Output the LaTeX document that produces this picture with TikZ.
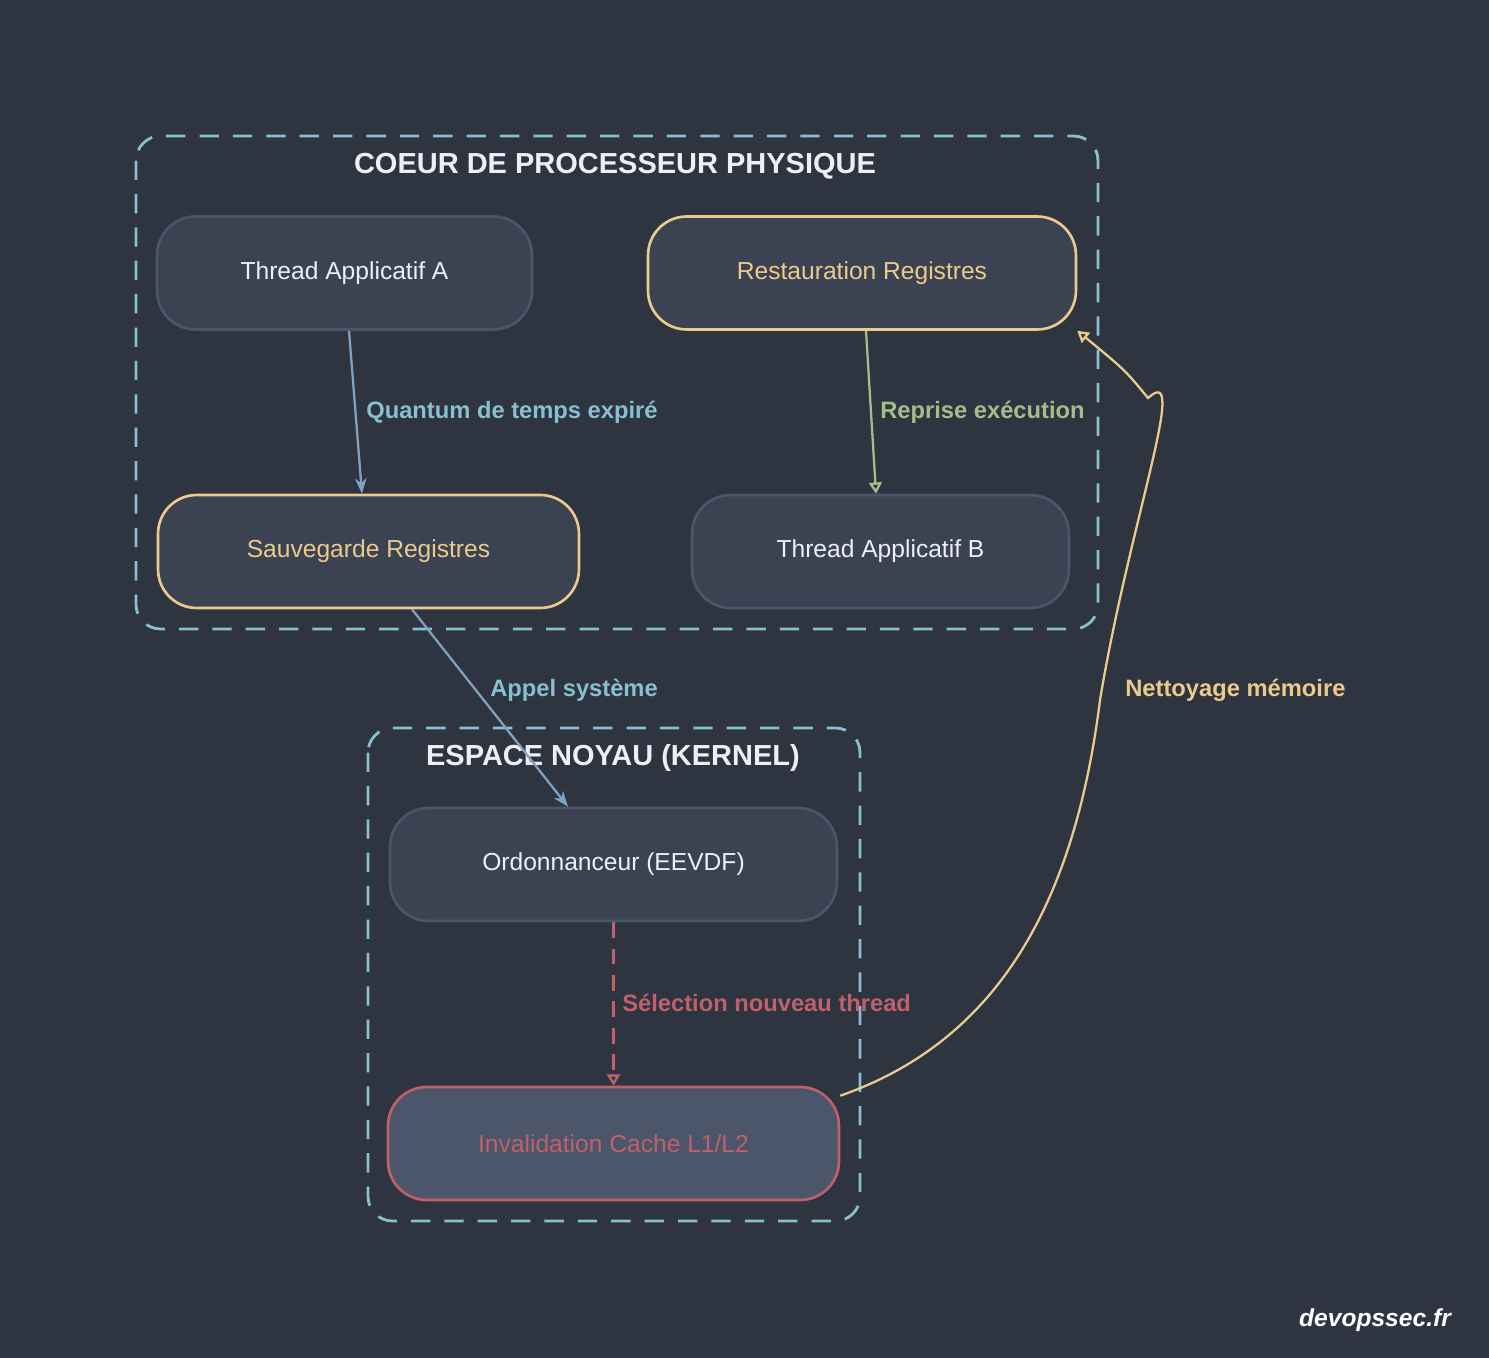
\documentclass[tikz,border=0pt]{standalone}
\usepackage{fontspec}
\setmainfont{Liberation Sans}
\usetikzlibrary{arrows.meta, positioning}
\definecolor{bgdark}{HTML}{2E3440}
\definecolor{nodefill}{HTML}{3B4252}
\definecolor{nodeline}{HTML}{4C566A}
\definecolor{hotfill}{HTML}{4C566A}
\definecolor{nyellow}{HTML}{EBCB8B}
\definecolor{ngreen}{HTML}{A3BE8C}
\definecolor{nred}{HTML}{BF616A}
\definecolor{nblue}{HTML}{81A1C1}
\definecolor{ncyan}{HTML}{88C0D0}
\definecolor{nwhite}{HTML}{ECEFF4}
\begin{document}
\begin{tikzpicture}[
    x=0.02cm, y=-0.02cm,
    >=Stealth,
    % Box styles
    procbox/.style={rectangle, rounded corners=22pt, draw=nodeline, line width=1.5pt, fill=nodefill, minimum height=2.26cm, text=nwhite, font=\fontsize{14}{16}\selectfont},
    keybox/.style={procbox, draw=nyellow, text=nyellow},
    hotbox/.style={procbox, draw=nred, fill=hotfill, text=nred},
    % Cluster styles
    cluster/.style={draw=ncyan, line width=1.6pt, dash pattern=on 11pt off 8pt, rounded corners=14pt},
    clustertitle/.style={text=nwhite, font=\fontsize{16.5}{18}\selectfont\bfseries},
    % Edge labels
    elabel/.style={anchor=west, font=\fontsize{13.5}{15}\selectfont\bfseries, inner sep=0pt}
]
    \fill[bgdark] (0,0) rectangle (1489,1358);

    % === CLUSTERS ===
    \draw[cluster] (136,136) rectangle (1098,629);
    \node[clustertitle] (t1) at (615,166) {COEUR DE PROCESSEUR PHYSIQUE};
    \draw[cluster] (368,728) rectangle (860,1221);
    \node[clustertitle] (t2) at (613,758) {ESPACE NOYAU (KERNEL)};

    % === NODES ===
    \node[procbox, minimum width=7.5cm] (tha) at (344.5,273) {Thread Applicatif A};
    \node[keybox, minimum width=8.56cm] (rest) at (862,273) {Restauration Registres};
    \node[keybox, minimum width=8.42cm] (sauv) at (368.5,551.5) {Sauvegarde Registres};
    \node[procbox, minimum width=7.54cm] (thb) at (880.5,551.5) {Thread Applicatif B};
    \node[procbox, minimum width=8.94cm] (ordo) at (613.5,864.5) {Ordonnanceur (EEVDF)};
    \node[hotbox, minimum width=9.02cm] (inval) at (613.5,1143.5) {Invalidation Cache L1/L2};

    \coordinate (p1) at (1100,700);

    % === EDGES ===
    \draw[->, nblue, line width=1.3pt] (tha.south -| 349,0) -- (sauv.north -| 362,0);
    \node[elabel, text=ncyan] (l1) at (366,412) {Quantum de temps expiré};
    \draw[-{Triangle[open]}, ngreen, line width=1.3pt] (rest.south -| 866,0) -- (thb.north -| 876,0);
    \node[elabel, text=ngreen] (l2) at (880,412) {Reprise exécution};
    \draw[->, nblue, line width=1.3pt] (sauv.south -| 412,0) -- (ordo.north -| 568,0);
    \node[elabel, text=ncyan] (l3) at (490,690) {Appel système};
    \draw[-{Triangle[open]}, nred, line width=1.3pt, dash pattern=on 9pt off 6pt] (ordo) -- (inval);
    \node[elabel, text=nred] (l4) at (622,1003) {Sélection nouveau thread};
    \draw[-{Triangle[open]}, nyellow, line width=1.3pt] (inval.north east) ++(0,10)
        .. controls (1000,1040) and (1075,900) .. (p1)
        .. controls (1130,520) and (1190,360) .. (1148,398)
        .. controls (1125,370) .. (rest.south east);
    \node[elabel, text=nyellow] (l5) at (1125,690) {Nettoyage mémoire};

    % watermark
    \node[text=white, font=\fontsize{14}{16}\selectfont\bfseries\itshape] (wm) at (1375,1320) {devopssec.fr};
\end{tikzpicture}
\end{document}
